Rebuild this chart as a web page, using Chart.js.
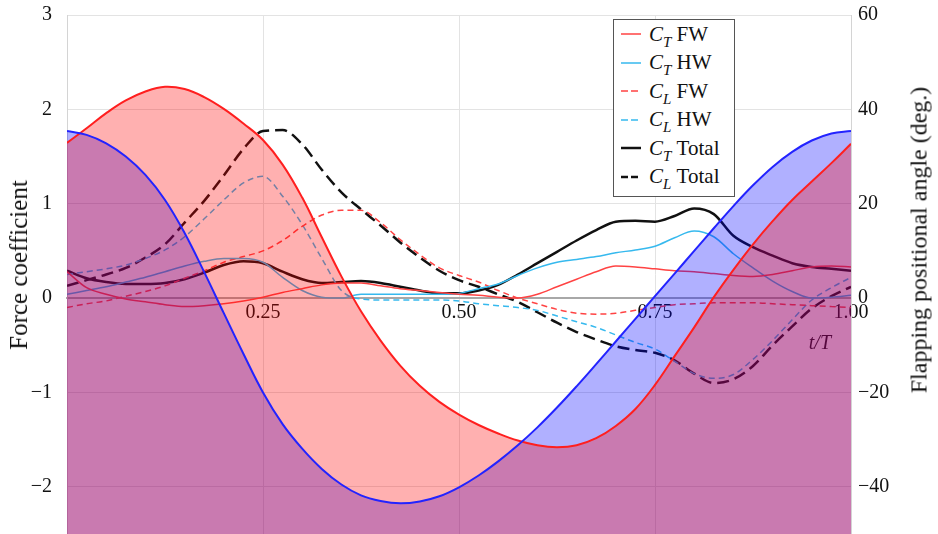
<!DOCTYPE html>
<html>
<head>
<meta charset="utf-8">
<script src="https://cdn.jsdelivr.net/npm/chart.js@4.4.1/dist/chart.umd.min.js"></script>
<style>
  body { margin: 0; background: #fff; }
  #wrap { position: relative; width: 938px; height: 534px; }
  #legend {
    position: absolute; left: 613px; top: 19px; width: 120px; height: 176px;
    border: 1.5px solid #555; background: #fff;
    font-family: 'Liberation Serif', serif; font-size: 21px; color: #111;
  }
  .item { height: 28.5px; display: flex; align-items: center; white-space: nowrap; }
  .item svg { margin-left: 7px; margin-right: 8px; }
  .item sub { font-size: 15px; line-height: 0; vertical-align: -6px; }
  .axisTitle {
    position: absolute;
    transform: translate(-50%, -50%) rotate(-90deg);
    white-space: nowrap; font-family: 'Liberation Serif', serif; color: #111;
  }
  #leftTitle { left: 19px; top: 265px; font-size: 25px; }
  #rightTitle { left: 919px; top: 240px; font-size: 24px; }
</style>
</head>
<body>
<div id="wrap">
  <canvas id="chart" width="938" height="534"></canvas>
  <div id="legend"></div>
  <div id="leftTitle" class="axisTitle">Force coefficient</div>
  <div id="rightTitle" class="axisTitle">Flapping positional angle (deg.)</div>
</div>
<script>
// time within the stroke (t/T)
const tValues = [0, 0.025, 0.05, 0.075, 0.1, 0.125, 0.15, 0.175, 0.2, 0.225,
  0.25, 0.275, 0.3, 0.325, 0.35, 0.375, 0.4, 0.425, 0.45, 0.475,
  0.5, 0.525, 0.55, 0.575, 0.6, 0.625, 0.65, 0.675, 0.7, 0.725,
  0.75, 0.775, 0.8, 0.825, 0.85, 0.875, 0.9, 0.925, 0.95, 0.975, 1];

// force coefficients (left axis)
const ctFW = [0.28, 0.11, 0.04, -0.01, -0.04, -0.07, -0.09, -0.08, -0.06, -0.03,
  0.01, 0.06, 0.10, 0.14, 0.16, 0.16, 0.13, 0.10, 0.08, 0.06,
  0.04, 0.03, 0.01, 0.00, 0.04, 0.12, 0.20, 0.28, 0.34, 0.33,
  0.31, 0.29, 0.28, 0.26, 0.24, 0.23, 0.25, 0.29, 0.33, 0.34, 0.33];
const ctHW = [0.04, 0.08, 0.12, 0.17, 0.22, 0.28, 0.34, 0.39, 0.42, 0.42,
  0.38, 0.22, 0.08, 0.01, 0.00, 0.04, 0.04, 0.04, 0.04, 0.04,
  0.05, 0.10, 0.15, 0.24, 0.32, 0.38, 0.41, 0.44, 0.48, 0.51,
  0.55, 0.64, 0.71, 0.65, 0.47, 0.32, 0.18, 0.07, 0.00, 0.01, 0.03];
const clFW = [-0.10, -0.06, -0.03, 0.02, 0.07, 0.13, 0.21, 0.29, 0.38, 0.44,
  0.50, 0.61, 0.76, 0.88, 0.93, 0.93, 0.80, 0.62, 0.46, 0.32,
  0.24, 0.17, 0.08, 0.00, -0.06, -0.12, -0.16, -0.17, -0.16, -0.13,
  -0.10, -0.07, -0.06, -0.05, -0.05, -0.05, -0.06, -0.07, -0.08, -0.09, -0.10];
const clHW = [0.25, 0.28, 0.31, 0.35, 0.42, 0.51, 0.65, 0.84, 1.04, 1.22,
  1.29, 1.08, 0.78, 0.42, 0.08, -0.01, -0.02, -0.02, -0.02, -0.02,
  -0.03, -0.06, -0.08, -0.10, -0.13, -0.19, -0.25, -0.31, -0.39, -0.47,
  -0.54, -0.67, -0.80, -0.85, -0.81, -0.65, -0.45, -0.23, -0.02, 0.11, 0.22];
const ctTotal = [0.29, 0.21, 0.17, 0.15, 0.15, 0.16, 0.20, 0.27, 0.35, 0.39,
  0.37, 0.28, 0.20, 0.16, 0.17, 0.18, 0.16, 0.12, 0.08, 0.05,
  0.05, 0.08, 0.14, 0.25, 0.37, 0.49, 0.61, 0.72, 0.81, 0.82,
  0.81, 0.87, 0.95, 0.89, 0.66, 0.54, 0.45, 0.37, 0.33, 0.31, 0.29];
const clTotal = [0.13, 0.19, 0.25, 0.32, 0.43, 0.57, 0.80, 1.03, 1.30, 1.58,
  1.77, 1.78, 1.63, 1.36, 1.12, 0.94, 0.77, 0.59, 0.43, 0.29,
  0.19, 0.12, 0.04, -0.04, -0.15, -0.26, -0.36, -0.44, -0.51, -0.55,
  -0.58, -0.66, -0.80, -0.90, -0.86, -0.72, -0.50, -0.30, -0.11, 0.02, 0.12];

// flapping positional angle, deg (right axis)
const angleFW = [32.9, 36.0, 39.2, 41.9, 43.8, 44.8, 44.3, 42.6, 40.1, 37.0,
  33.5, 28.3, 21.3, 12.9, 4.6, -2.8, -9.0, -14.3, -18.6, -22.0,
  -24.7, -26.9, -28.7, -30.2, -31.2, -31.6, -31.2, -29.7, -27.1, -23.5,
  -18.4, -12.3, -6.2, 0.2, 6.0, 11.4, 16.3, 20.8, 24.7, 28.6, 32.7];
const angleHW = [35.4, 34.6, 32.8, 30.0, 26.1, 20.8, 13.8, 5.5, -3.2, -11.8,
  -20.0, -26.7, -31.9, -36.2, -39.5, -41.8, -43.0, -43.5, -43.1, -42.0,
  -40.1, -37.6, -34.6, -31.2, -27.4, -23.2, -18.7, -14.0, -9.2, -4.4,
  0.4, 5.2, 10.0, 14.8, 19.5, 23.9, 27.8, 31.0, 33.4, 34.9, 35.4];

// tick labels
const forceTicks = [-2, -1, 0, 1, 2, 3];
const angleTicks = [-40, -20, 0, 20, 40, 60];
const timeTicks = [0.25, 0.5, 0.75, 1];

// legend entries: subscript letter and wing label
const coefLetters = ['T', 'T', 'L', 'L', 'T', 'L'];
const wingLabels = ['FW', 'HW', 'FW', 'HW', 'Total', 'Total'];

const RED = '#ff4343';
const CYAN = '#36b9ee';
const BLACK = '#111111';
const serif = "'Liberation Serif', 'Times New Roman', serif";
const tickFont = { family: serif, size: 20 };

const pts = arr => arr.map((v, i) => ({ x: tValues[i], y: v }));
const minus = v => String(v).replace('-', '\u2212');

const forceStyles = [
  { data: ctFW, color: RED, width: 1.5, dash: [] },
  { data: ctHW, color: CYAN, width: 1.5, dash: [] },
  { data: clFW, color: RED, width: 1.5, dash: [6, 4] },
  { data: clHW, color: CYAN, width: 1.5, dash: [6, 4] },
  { data: ctTotal, color: BLACK, width: 2.5, dash: [] },
  { data: clTotal, color: BLACK, width: 2.5, dash: [12, 6] }
];

const datasets = forceStyles.map((s, i) => ({
  label: 'C' + coefLetters[i] + ' ' + wingLabels[i],
  data: pts(s.data),
  yAxisID: 'y',
  borderColor: s.color,
  borderWidth: s.width,
  borderDash: s.dash,
  fill: false,
  cubicInterpolationMode: 'monotone',
  order: 3
}));

// angle fills go over the force curves: HW fill, then FW fill + line, then HW line
datasets.push({
  label: 'HW angle fill',
  data: pts(angleHW),
  yAxisID: 'y1',
  borderWidth: 0,
  borderColor: 'rgba(0,0,0,0)',
  backgroundColor: 'rgba(0, 0, 255, 0.31)',
  fill: 'start',
  tension: 0.4,
  order: 2
});
datasets.push({
  label: 'FW angle',
  data: pts(angleFW),
  yAxisID: 'y1',
  borderColor: '#ff1f1f',
  borderWidth: 2,
  backgroundColor: 'rgba(255, 0, 0, 0.31)',
  fill: 'start',
  tension: 0.4,
  order: 1
});
datasets.push({
  label: 'HW angle',
  data: pts(angleHW),
  yAxisID: 'y1',
  borderColor: '#2323ff',
  borderWidth: 2,
  fill: false,
  tension: 0.4,
  order: 0
});

new Chart(document.getElementById('chart'), {
  type: 'line',
  data: { datasets: datasets },
  options: {
    responsive: false,
    animation: false,
    devicePixelRatio: 1,
    layout: { padding: { top: 15, left: 0, right: 0, bottom: 0 } },
    elements: { point: { radius: 0 } },
    plugins: {
      legend: { display: false },
      tooltip: { enabled: false }
    },
    scales: {
      x: {
        type: 'linear',
        min: 0,
        max: 1,
        position: { y: 0 },
        afterBuildTicks: s => { s.ticks = timeTicks.map(v => ({ value: v })); },
        ticks: {
          callback: v => v.toFixed(2),
          font: tickFont,
          color: BLACK,
          padding: 3,
          maxRotation: 0,
          autoSkip: false
        },
        grid: { color: '#e3e3e3', drawTicks: false },
        border: { color: '#a8a8a8', width: 2 },
        title: {
          display: true,
          text: 't/T\u2002\u2002',
          align: 'end',
          color: BLACK,
          font: { family: serif, size: 20, style: 'italic' }
        }
      },
      y: {
        min: -2.5,
        max: 3,
        position: 'left',
        afterBuildTicks: s => { s.ticks = forceTicks.map(v => ({ value: v })); },
        afterFit: s => { s.width = 67; s.paddingTop = 0; s.paddingBottom = 0; },
        ticks: { callback: minus, font: tickFont, color: BLACK, padding: 15 },
        grid: {
          drawTicks: false,
          color: c => c.tick && c.tick.value === 0 ? '#a8a8a8' : '#e3e3e3',
          lineWidth: c => c.tick && c.tick.value === 0 ? 2 : 1
        },
        border: { color: '#d4d4d4' }
      },
      y1: {
        min: -50,
        max: 60,
        position: 'right',
        afterBuildTicks: s => { s.ticks = angleTicks.map(v => ({ value: v })); },
        afterFit: s => { s.width = 87; s.paddingTop = 0; s.paddingBottom = 0; },
        ticks: { callback: minus, font: tickFont, color: BLACK, padding: 7 },
        grid: { display: false, drawTicks: false },
        border: { color: '#d4d4d4' }
      }
    }
  }
});

// HTML legend so the subscripts stay real text
const legend = document.getElementById('legend');
forceStyles.forEach((s, i) => {
  const row = document.createElement('div');
  row.className = 'item';
  const dash = s.dash.length ? 'stroke-dasharray="7 3"' : '';
  row.innerHTML = `
    <svg width="20" height="6"><line x1="0" y1="3" x2="20" y2="3" stroke="${s.color}" stroke-width="${s.width}" ${dash}/></svg>
    <span><i>C</i><sub><i>${coefLetters[i]}</i></sub>&nbsp;${wingLabels[i]}</span>
  `;
  legend.appendChild(row);
});
</script>
</body>
</html>
